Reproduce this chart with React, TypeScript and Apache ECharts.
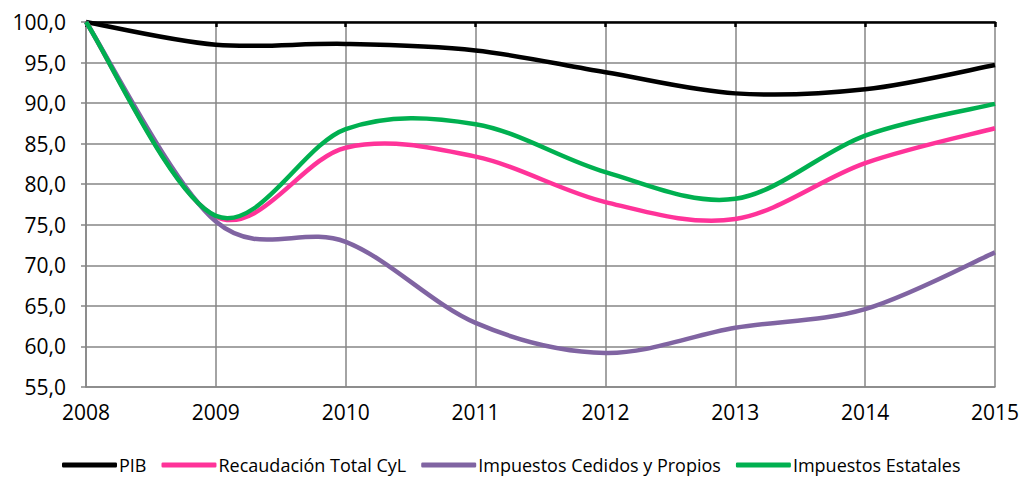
import React, { useEffect, useRef } from "react";
import * as echarts from "echarts";

const years = ["2008", "2009", "2010", "2011", "2012", "2013", "2014", "2015"];
const pib = [100, 97.2, 97.3, 96.5, 93.8, 91.2, 91.7, 94.7];
const recaudacion = [100, 76.0, 84.5, 83.4, 77.8, 75.7, 82.6, 86.9];
const cedidos = [100, 75.4, 72.9, 62.9, 59.2, 62.3, 64.6, 71.6];
const estatales = [100, 76.1, 86.8, 87.4, 81.5, 78.2, 86.0, 89.9];

const FONT = "'Open Sans', 'Noto Sans', sans-serif";

function makeSeries(name: string, values: number[], color: string) {
  return {
    name,
    type: "custom",
    data: values.map((v, i) => [i, v]),
    encode: { x: 0, y: 1 },
    itemStyle: { color },
    renderItem: (params: any, api: any) => {
      if (params.dataIndex !== 0) return null;
      const pts = values.map((v, i) => api.coord([i, v]));
      const n = pts.length;
      let d = `M${pts[0][0]},${pts[0][1]}`;
      for (let i = 0; i < n - 1; i++) {
        const p0 = pts[Math.max(i - 1, 0)];
        const p1 = pts[i];
        const p2 = pts[i + 1];
        const p3 = pts[Math.min(i + 2, n - 1)];
        const c1x = p1[0] + (p2[0] - p0[0]) / 6;
        const c1y = p1[1] + (p2[1] - p0[1]) / 6;
        const c2x = p2[0] - (p3[0] - p1[0]) / 6;
        const c2y = p2[1] - (p3[1] - p1[1]) / 6;
        d += ` C${c1x},${c1y} ${c2x},${c2y} ${p2[0]},${p2[1]}`;
      }
      return {
        type: "path",
        shape: { pathData: d },
        style: { stroke: color, lineWidth: 4.5, fill: "none", lineJoin: "round", lineCap: "butt" },
        silent: true,
      };
    },
  };
}

export default function App() {
  const ref = useRef<HTMLDivElement>(null);
  useEffect(() => {
    if (!ref.current) return;
    const chart = echarts.init(ref.current, null, { renderer: "svg" });
    chart.setOption({
      animation: false,
      textStyle: { fontFamily: FONT },
      grid: { left: 86, right: 25, top: 22, bottom: 92, containLabel: false },
      legend: {
        top: 451,
        left: 57,
        icon: "roundRect",
        itemWidth: 55,
        itemHeight: 5,
        itemGap: 15,
        textStyle: { fontFamily: FONT, fontSize: 18, color: "#000", padding: [0, 0, 0, -3] },
        data: ["PIB", "Recaudación Total CyL", "Impuestos Cedidos y Propios", "Impuestos Estatales"],
      },
      xAxis: [
        {
          type: "category",
          data: years,
          boundaryGap: false,
          position: "bottom",
          axisLine: { lineStyle: { color: "#868686", width: 1.5 } },
          axisTick: { show: false },
          axisLabel: { fontFamily: FONT, fontSize: 21, color: "#000", margin: 14 },
          splitLine: { show: true, lineStyle: { color: "#868686", width: 1.5 } },
        },
        {
          type: "category",
          data: years,
          boundaryGap: false,
          position: "top",
          axisLine: { lineStyle: { color: "#000", width: 2.5 } },
          axisTick: { show: true, inside: true, length: 5, lineStyle: { color: "#000", width: 2.5 } },
          axisLabel: { show: false },
          splitLine: { show: false },
        },
      ],
      yAxis: {
        type: "value",
        min: 55,
        max: 100,
        interval: 5,
        axisLine: { show: true, lineStyle: { color: "#868686", width: 1.5 } },
        axisTick: { show: true, length: 5, lineStyle: { color: "#868686", width: 1.5 } },
        axisLabel: {
          fontFamily: FONT,
          fontSize: 21,
          color: "#000",
          margin: 20,
          formatter: (v: number) => v.toFixed(1).replace(".", ","),
        },
        splitLine: { show: true, lineStyle: { color: "#868686", width: 1.5 } },
      },
      series: [
        makeSeries("PIB", pib, "#000000"),
        makeSeries("Recaudación Total CyL", recaudacion, "#FF3399"),
        makeSeries("Impuestos Cedidos y Propios", cedidos, "#8064A2"),
        makeSeries("Impuestos Estatales", estatales, "#00B050"),
      ],
    });
    return () => chart.dispose();
  }, []);
  return <div ref={ref} style={{ position: "absolute", left: 0, top: 0, width: 1022, height: 479 }} />;
}
